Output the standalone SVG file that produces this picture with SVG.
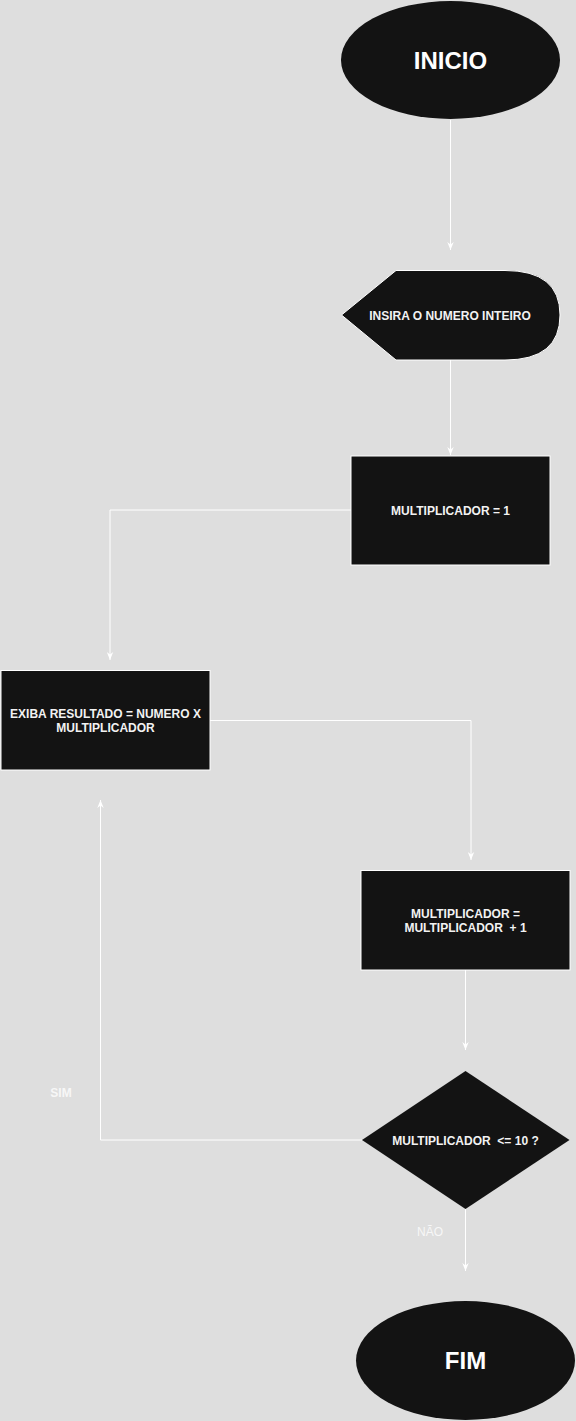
<svg xmlns="http://www.w3.org/2000/svg" width="576" height="1421" viewBox="0 0 576 1421">
<style>
.node{fill:#131313}
.box{stroke:#ffffff;stroke-width:1}
.t{font-family:"Liberation Sans",Arial,Helvetica,sans-serif;font-size:12px;font-weight:bold;fill:#f2f2f2;text-anchor:middle;white-space:pre}
.big{font-size:24px;fill:#ffffff}
.lbl{font-family:"Liberation Sans",Arial,Helvetica,sans-serif;font-size:12px;fill:#f7f7f7;text-anchor:middle}
.edge{fill:none;stroke:#ffffff;stroke-width:1}
</style>
<defs>
<marker id="arr" viewBox="0 0 10 10" refX="10" refY="5" markerWidth="8" markerHeight="8" markerUnits="userSpaceOnUse" orient="auto">
<path d="M0,1 L10,5 L0,9 L3,5 Z" fill="#ffffff"/>
</marker>
</defs>
<rect x="0" y="0" width="576" height="1421" fill="#dedede"/>
<g id="connectors">
<path class="edge" d="M450.5,120 L450.5,250" marker-end="url(#arr)"/>
<path class="edge" d="M450.5,360 L450.5,455" marker-end="url(#arr)"/>
<path class="edge" d="M351,510 L110,510 L110,660" marker-end="url(#arr)"/>
<path class="edge" d="M210,720.5 L471,720.5 L471,860" marker-end="url(#arr)"/>
<path class="edge" d="M465.5,970 L465.5,1050" marker-end="url(#arr)"/>
<path class="edge" d="M362,1140 L100.5,1140 L100.5,800" marker-end="url(#arr)"/>
<path class="edge" d="M465.5,1209 L465.5,1271" marker-end="url(#arr)"/>
<text class="t" x="61" y="1097" style="fill:#f7f7f7">SIM</text>
<text class="lbl" x="430" y="1236">NÃO</text>
</g>
<g id="inicio">
<ellipse class="node" cx="450.5" cy="60" rx="109.5" ry="59"/>
<text class="t big" x="450.5" y="68.5">INICIO</text>
</g>
<g id="entrada">
<path class="node box" d="M341.5,315 L396,270.5 L505,270.5 Q560,270.5 560,315 Q560,360 505,360 L396,360 Z"/>
<text class="t" x="450" y="319.5">INSIRA O NUMERO INTEIRO</text>
</g>
<g id="mult1">
<rect class="node box" x="351" y="456" width="199" height="109"/>
<text class="t" x="450.5" y="514.5">MULTIPLICADOR = 1</text>
</g>
<g id="exiba">
<rect class="node box" x="1" y="670.5" width="209" height="99.5"/>
<text class="t" x="105.5" y="717.5">EXIBA RESULTADO = NUMERO X</text>
<text class="t" x="105.5" y="731.5">MULTIPLICADOR</text>
</g>
<g id="incremento">
<rect class="node box" x="361" y="870.5" width="209" height="99.5"/>
<text class="t" x="465.5" y="917.5">MULTIPLICADOR =</text>
<text class="t" x="465.5" y="931.5">MULTIPLICADOR  + 1</text>
</g>
<g id="decisao">
<polygon class="node" points="465.5,1071 569.5,1140 465.5,1209 362,1140"/>
<text class="t" x="465.5" y="1144.5">MULTIPLICADOR  &lt;= 10 ?</text>
</g>
<g id="fim">
<ellipse class="node" cx="465.5" cy="1360.5" rx="109.5" ry="59.5"/>
<text class="t big" x="465.5" y="1369">FIM</text>
</g>
</svg>
